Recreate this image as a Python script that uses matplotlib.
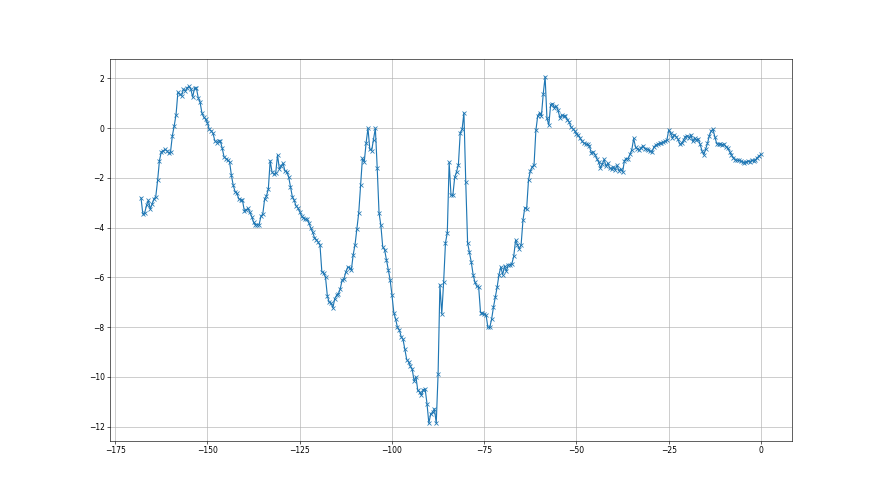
import numpy as np
import matplotlib
matplotlib.use("Agg")
import matplotlib.pyplot as plt

x_start = -168.0
x_step = 0.5

values = [
    -2.80, -3.45, -3.40, -3.10, -2.90, -3.25, -3.05, -2.85, -2.75, -2.10,
    -1.30, -0.95, -0.92, -0.85, -0.90, -1.00, -0.95, -0.30, 0.10, 0.55,
    1.45, 1.37, 1.30, 1.57, 1.50, 1.62, 1.68, 1.57, 1.25, 1.60,
    1.62, 1.23, 1.05, 0.62, 0.45, 0.36, 0.22, -0.05, -0.10, -0.20,
    -0.50, -0.58, -0.50, -0.52, -0.80, -1.15, -1.22, -1.28, -1.35, -1.90,
    -2.30, -2.55, -2.62, -2.84, -2.88, -2.90, -3.32, -3.28, -3.22, -3.38,
    -3.55, -3.78, -3.88, -3.88, -3.88, -3.54, -3.45, -2.85, -2.72, -2.45,
    -1.31, -1.76, -1.85, -1.80, -1.08, -1.65, -1.50, -1.41, -1.72, -1.75,
    -1.95, -2.35, -2.75, -2.90, -3.12, -3.20, -3.35, -3.52, -3.60, -3.66,
    -3.65, -3.81, -4.01, -4.18, -4.40, -4.48, -4.58, -4.70, -5.77, -5.82,
    -6.00, -6.75, -7.00, -7.03, -7.22, -6.85, -6.72, -6.65, -6.45, -6.11,
    -6.05, -5.78, -5.59, -5.60, -5.70, -5.08, -4.68, -4.04, -3.40, -2.29,
    -1.21, -1.35, -0.59, 0.00, -0.84, -0.90, -0.46, 0.00, -1.58, -3.40,
    -3.91, -4.77, -4.88, -5.28, -5.69, -6.09, -6.70, -7.41, -7.68, -8.01,
    -8.11, -8.38, -8.49, -8.89, -9.30, -9.39, -9.57, -9.70, -10.16, -10.00,
    -10.54, -10.61, -10.74, -10.51, -10.49, -11.08, -11.86, -11.48, -11.42, -11.28,
    -11.86, -9.89, -6.29, -7.47, -6.20, -4.61, -4.20, -1.37, -2.70, -2.70,
    -1.98, -1.75, -1.48, -0.19, -0.05, 0.62, -2.18, -4.61, -4.99, -5.39,
    -5.89, -6.20, -6.36, -6.39, -7.41, -7.44, -7.47, -7.51, -8.01, -8.01,
    -7.68, -7.20, -6.79, -6.39, -5.89, -5.58, -5.89, -5.55, -5.75, -5.50,
    -5.49, -5.44, -5.15, -4.50, -4.68, -4.85, -4.68, -3.70, -3.19, -3.23,
    -2.08, -1.72, -1.55, -1.48, -0.09, 0.50, 0.62, 0.50, 1.39, 2.07,
    0.40, 0.13, 0.94, 0.99, 0.83, 0.89, 0.72, 0.42, 0.53, 0.49,
    0.49, 0.35, 0.26, 0.05, -0.02, -0.10, -0.22, -0.28, -0.41, -0.52,
    -0.60, -0.63, -0.65, -0.72, -0.99, -0.95, -1.06, -1.22, -1.36, -1.60,
    -1.44, -1.25, -1.53, -1.40, -1.60, -1.65, -1.55, -1.67, -1.49, -1.71,
    -1.63, -1.76, -1.30, -1.22, -1.22, -1.05, -0.86, -0.41, -0.76, -0.82,
    -0.88, -0.80, -0.70, -0.82, -0.84, -0.86, -0.92, -0.95, -0.75, -0.68,
    -0.64, -0.61, -0.61, -0.57, -0.53, -0.48, -0.07, -0.20, -0.39, -0.26,
    -0.34, -0.44, -0.64, -0.61, -0.48, -0.34, -0.30, -0.39, -0.26, -0.53,
    -0.39, -0.48, -0.44, -0.65, -0.90, -1.07, -0.84, -0.61, -0.30, -0.10,
    -0.05, -0.35, -0.62, -0.64, -0.62, -0.66, -0.64, -0.75, -0.80, -0.94,
    -1.08, -1.18, -1.27, -1.29, -1.29, -1.32, -1.35, -1.39, -1.35, -1.32,
    -1.35, -1.29, -1.32, -1.27, -1.18, -1.12, -1.05,
]

x = x_start + x_step * np.arange(len(values))

fig = plt.figure(figsize=(16, 9), dpi=55)
ax = fig.add_subplot(111)
ax.plot(x, values, marker='x', markersize=5, linewidth=1.5, color='#1f77b4')
ax.grid(True)
fig.savefig("out.png", dpi=55)
